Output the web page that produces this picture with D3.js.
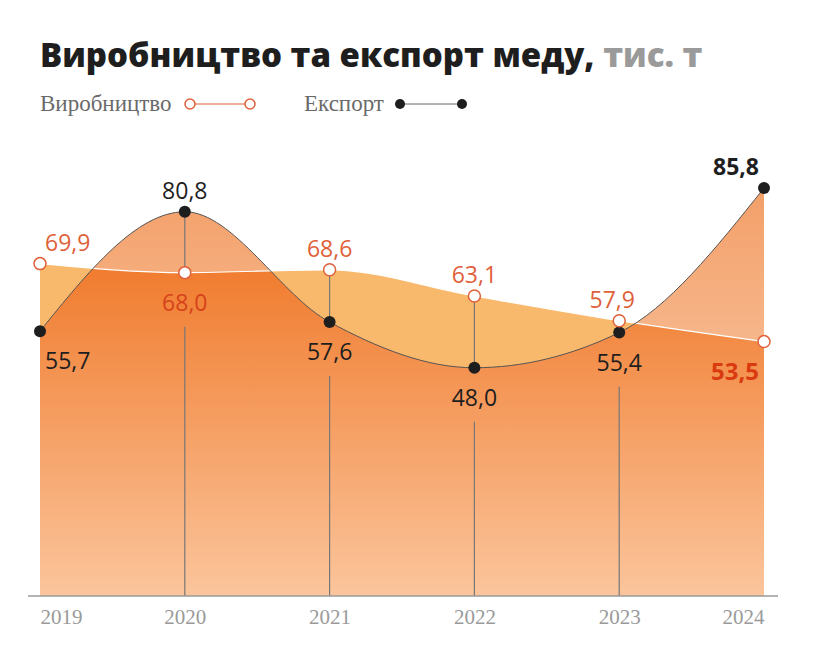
<!DOCTYPE html>
<html>
<head>
<meta charset="utf-8">
<script src="https://cdn.jsdelivr.net/npm/d3@7"></script>
<style>
  body { margin: 0; background: #fff; }
  svg { display: block; }
</style>
</head>
<body>
<svg id="chart" width="814" height="652"></svg>
<script>
// data
const years = ['2019', '2020', '2021', '2022', '2023', '2024'];
const production = [69.9, 68.0, 68.6, 63.1, 57.9, 53.5];
const exports_ = [55.7, 80.8, 57.6, 48.0, 55.4, 85.8];
const titleMain = 'Виробництво та експорт меду,';
const titleUnit = ' тис. т';

const svg = d3.select('#chart');
const fmt = v => d3.format('.1f')(v).replace('.', ',');

const x = d3.scalePoint().domain(years).range([40, 764]);
const y = d3.scaleLinear().domain([0, 85.8]).range([596, 188]);

// gradients
const defs = svg.append('defs');
function grad(id, y1, y2, c1, c2) {
  const g = defs.append('linearGradient').attr('id', id)
    .attr('gradientUnits', 'userSpaceOnUse')
    .attr('x1', 0).attr('x2', 0).attr('y1', y1).attr('y2', y2);
  g.append('stop').attr('offset', 0).attr('stop-color', c1);
  g.append('stop').attr('offset', 1).attr('stop-color', c2);
}
grad('gDark', 260, 596, '#f07a2c', '#fbc59c');
grad('gSalmon', 188, 420, '#f39f68', '#f8c29c');

const rows = years.map((yr, i) => ({ yr, p: production[i], e: exports_[i] }));

const areaP = d3.area().x(d => x(d.yr)).y0(y(0)).y1(d => y(d.p)).curve(d3.curveMonotoneX);
const areaE = d3.area().x(d => x(d.yr)).y0(y(0)).y1(d => y(d.e)).curve(d3.curveMonotoneX);
const lineP = d3.line().x(d => x(d.yr)).y(d => y(d.p)).curve(d3.curveMonotoneX);
const lineE = d3.line().x(d => x(d.yr)).y(d => y(d.e)).curve(d3.curveMonotoneX);

defs.append('clipPath').attr('id', 'clipE')
  .append('path').attr('d', areaE(rows));

svg.append('path').attr('d', areaE(rows)).attr('fill', 'url(#gSalmon)');
svg.append('path').attr('d', areaP(rows)).attr('fill', '#f9b96c');
svg.append('path').attr('d', areaP(rows)).attr('fill', 'url(#gDark)').attr('clip-path', 'url(#clipE)');

// vertical drop lines
const above = -13, below = 38;
rows.forEach((d, i) => {
  if (i === 0 || i === rows.length - 1) return;
  const yp = y(d.p), ye = y(d.e);
  const top = Math.min(yp, ye), low = Math.max(yp, ye);
  svg.append('line').attr('x1', x(d.yr)).attr('x2', x(d.yr))
    .attr('y1', top).attr('y2', low).attr('stroke', '#777').attr('stroke-width', 1.2);
  svg.append('line').attr('x1', x(d.yr)).attr('x2', x(d.yr))
    .attr('y1', low + below + 16).attr('y2', y(0)).attr('stroke', '#777').attr('stroke-width', 1.2);
});

svg.append('path').attr('d', lineP(rows)).attr('fill', 'none').attr('stroke', '#fff').attr('stroke-width', 1.2);
svg.append('path').attr('d', lineE(rows)).attr('fill', 'none').attr('stroke', '#555').attr('stroke-width', 1);

// baseline
svg.append('line').attr('x1', 28).attr('x2', 778).attr('y1', y(0)).attr('y2', y(0))
  .attr('stroke', '#9a9a9a').attr('stroke-width', 1.5);

// axis labels
const axis = svg.append('g').attr('transform', `translate(0,${y(0)})`)
  .call(d3.axisBottom(x).tickSize(0).tickPadding(13));
axis.select('.domain').remove();
axis.selectAll('text').attr('font-family', '"Liberation Serif", serif')
  .attr('font-size', 21).attr('fill', '#9a9a9a')
  .attr('text-anchor', (d, i) => i === 0 ? 'start' : i === years.length - 1 ? 'end' : 'middle');

// points
svg.selectAll('.pe').data(rows).join('circle')
  .attr('cx', d => x(d.yr)).attr('cy', d => y(d.e)).attr('r', 6).attr('fill', '#1e1e1e');
svg.selectAll('.pp').data(rows).join('circle')
  .attr('cx', d => x(d.yr)).attr('cy', d => y(d.p)).attr('r', 6)
  .attr('fill', '#fff').attr('stroke', '#e0603a').attr('stroke-width', 1.5);

// value labels
function anchorFor(i) { return i === 0 ? 'start' : i === rows.length - 1 ? 'end' : 'middle'; }
function dxFor(i) { return i === 0 ? 5 : i === rows.length - 1 ? -5 : 0; }
rows.forEach((d, i) => {
  const pUp = d.p >= d.e;
  const last = i === rows.length - 1;
  svg.append('text').text(fmt(d.p))
    .attr('x', x(d.yr) + dxFor(i) + (i === 4 ? -7 : 0))
    .attr('y', y(d.p) + (pUp ? above : below))
    .attr('text-anchor', anchorFor(i))
    .attr('font-family', '"Open Sans", sans-serif').attr('font-size', last ? 24 : 23)
    .attr('font-weight', last ? 700 : 400)
    .attr('fill', last ? '#d93a10' : (pUp ? '#e0603a' : '#d6431a'));
  svg.append('text').text(fmt(d.e))
    .attr('x', x(d.yr) + dxFor(i))
    .attr('y', y(d.e) + (pUp ? below : above))
    .attr('text-anchor', anchorFor(i))
    .attr('font-family', '"Open Sans", sans-serif').attr('font-size', 23)
    .attr('font-weight', last ? 700 : 400)
    .attr('fill', '#1e1e1e');
});

// title
const title = svg.append('text').attr('x', 40).attr('y', 67)
  .attr('font-family', '"Open Sans", sans-serif').attr('font-weight', 800).attr('font-size', 33);
title.append('tspan').text(titleMain).attr('fill', '#1e1e1e');
title.append('tspan').text(titleUnit).attr('fill', '#9a9a9a');

// legend
const leg = svg.append('g').attr('font-family', '"Liberation Serif", serif').attr('font-size', 23).attr('fill', '#6a6a6a');
leg.append('text').attr('x', 40).attr('y', 111).text('Виробництво');
leg.append('line').attr('x1', 190).attr('x2', 250).attr('y1', 104).attr('y2', 104).attr('stroke', '#e0603a').attr('stroke-width', 1.2);
[190, 250].forEach(cx => leg.append('circle').attr('cx', cx).attr('cy', 104).attr('r', 5)
  .attr('fill', '#fff').attr('stroke', '#e0603a').attr('stroke-width', 1.5));
leg.append('text').attr('x', 304).attr('y', 111).text('Експорт');
leg.append('line').attr('x1', 400).attr('x2', 462).attr('y1', 104).attr('y2', 104).attr('stroke', '#666').attr('stroke-width', 1);
[400, 462].forEach(cx => leg.append('circle').attr('cx', cx).attr('cy', 104).attr('r', 5).attr('fill', '#1e1e1e'));
</script>
</body>
</html>
